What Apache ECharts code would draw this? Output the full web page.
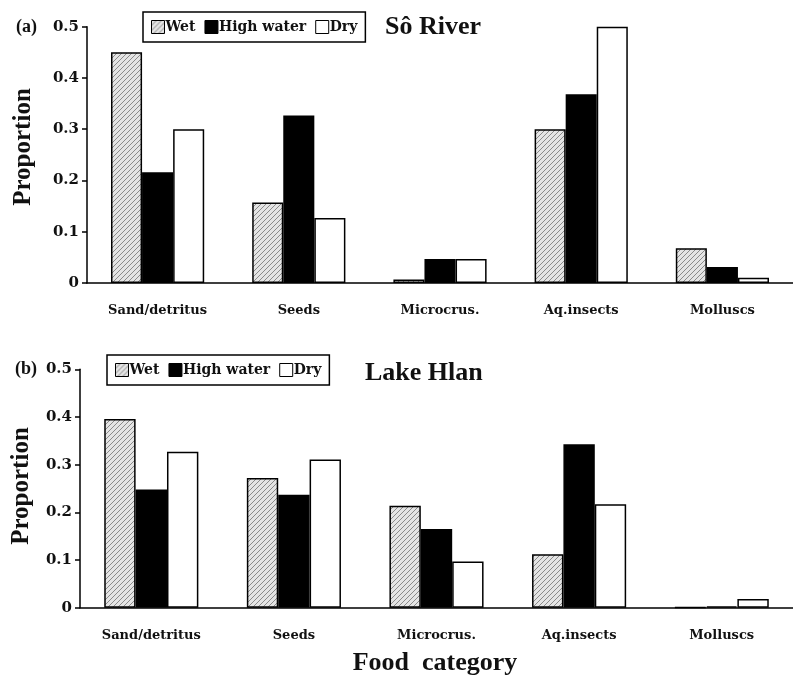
<!DOCTYPE html>
<html>
<head>
<meta charset="utf-8">
<script src="https://cdn.jsdelivr.net/npm/echarts@6/dist/echarts.min.js"></script>
<style>
  html, body { margin: 0; padding: 0; background: #fff; }
  #chart { width: 793px; height: 678px; }
</style>
</head>
<body>
<div id="chart"></div>
<script>
// Diet proportions by food category and hydrological season
const categories = ['Sand/detritus', 'Seeds', 'Microcrus.', 'Aq.insects', 'Molluscs'];
const seasons = ['Wet', 'High water', 'Dry'];
const yTicks = [0, 0.1, 0.2, 0.3, 0.4, 0.5];

// (a) Sô River
const soWet = [0.45, 0.157, 0.007, 0.30, 0.068];
const soHigh = [0.216, 0.327, 0.047, 0.368, 0.031];
const soDry = [0.30, 0.127, 0.047, 0.50, 0.01];

// (b) Lake Hlan
const hlanWet = [0.396, 0.272, 0.214, 0.112, 0.001];
const hlanHigh = [0.248, 0.237, 0.165, 0.343, 0.003];
const hlanDry = [0.327, 0.311, 0.097, 0.217, 0.018];

const serif = '"Liberation Serif", "DejaVu Serif", serif';
const wide = '"DejaVu Serif", "Liberation Serif", serif';

// light grey fill with fine diagonal hatching for the wet season
function hatch() {
  const c = document.createElement('canvas');
  c.width = 5; c.height = 5;
  const g = c.getContext('2d');
  g.fillStyle = '#e4e4e4';
  g.fillRect(0, 0, 5, 5);
  g.strokeStyle = '#8a8a8a';
  g.lineWidth = 1;
  g.beginPath();
  g.moveTo(-1, 6); g.lineTo(6, -1);
  g.moveTo(-1, 1); g.lineTo(1, -1);
  g.moveTo(4, 6); g.lineTo(6, 4);
  g.stroke();
  return { image: c, repeat: 'repeat' };
}
const wetFill = hatch();
const fills = [wetFill, '#000', '#fff'];

const grids = [
  { left: 87, right: -10, top: 26.7, height: 256.3 },
  { left: 80, right: -2, top: 369.3, height: 238.4 }
];

function xAxis(i) {
  return {
    type: 'category', gridIndex: i, data: categories,
    axisLine: { lineStyle: { color: '#000', width: 1.5 } },
    axisTick: { length: 5, lineStyle: { color: '#000', width: 1.5 } },
    axisLabel: { color: '#111', fontFamily: wide, fontWeight: 'bold', fontSize: 13, margin: 21 }
  };
}
function yAxis(i) {
  return {
    type: 'value', gridIndex: i, min: yTicks[0], max: yTicks[yTicks.length - 1], interval: 0.1,
    axisLine: { show: true, lineStyle: { color: '#000', width: 1.5 } },
    axisTick: { show: true, length: 5, lineStyle: { color: '#000', width: 1.5 } },
    splitLine: { show: false },
    axisLabel: { color: '#111', fontFamily: wide, fontWeight: 'bold', fontSize: 15, margin: 8,
      formatter: v => String(Math.round(v * 10) / 10) }
  };
}

function bars(gi, wet, high, dry) {
  return [wet, high, dry].map((d, k) => ({
    name: seasons[k], type: 'bar', xAxisIndex: gi, yAxisIndex: gi, data: d,
    barGap: '0%', barCategoryGap: '34%',
    itemStyle: { color: fills[k], borderColor: '#000', borderWidth: 1.5 },
    emphasis: { disabled: true }
  }));
}

function legend(left, top) {
  return {
    data: seasons.map(n => ({ name: n, icon: 'rect' })), left: left, top: top, orient: 'horizontal',
    itemWidth: 13, itemHeight: 13, itemGap: 9,
    padding: [8, 8], borderColor: '#000', borderWidth: 1.5,
    itemStyle: { borderColor: '#000', borderWidth: 1 },
    textStyle: { color: '#111', fontFamily: wide, fontWeight: 'bold', fontSize: 14, padding: [0, 0, 0, -4] },
    selectedMode: false
  };
}

function txt(x, y, s, size, align) {
  return {
    type: 'text', x: x, y: y,
    style: { text: s, fill: '#111', font: 'bold ' + size + 'px ' + serif,
      textAlign: align || 'left', textVerticalAlign: 'middle' }
  };
}
function vtxt(x, y, s, size) {
  const t = txt(x, y, s, size, 'center');
  t.rotation = Math.PI / 2;
  return t;
}

const chart = echarts.init(document.getElementById('chart'), null, { renderer: 'canvas' });
chart.setOption({
  animation: false,
  backgroundColor: '#fff',
  grid: grids,
  xAxis: [xAxis(0), xAxis(1)],
  yAxis: [yAxis(0), yAxis(1)],
  legend: [legend(143, 12), legend(107, 355)],
  series: bars(0, soWet, soHigh, soDry).concat(bars(1, hlanWet, hlanHigh, hlanDry)),
  graphic: [
    txt(16, 27, '(a)', 18),
    txt(15, 369, '(b)', 18),
    txt(385, 27, 'Sô River', 26),
    txt(365, 373, 'Lake Hlan', 26),
    vtxt(24, 147, 'Proportion', 25),
    vtxt(22, 486, 'Proportion', 25),
    txt(435, 663, 'Food  category', 26, 'center')
  ]
});
</script>
</body>
</html>
